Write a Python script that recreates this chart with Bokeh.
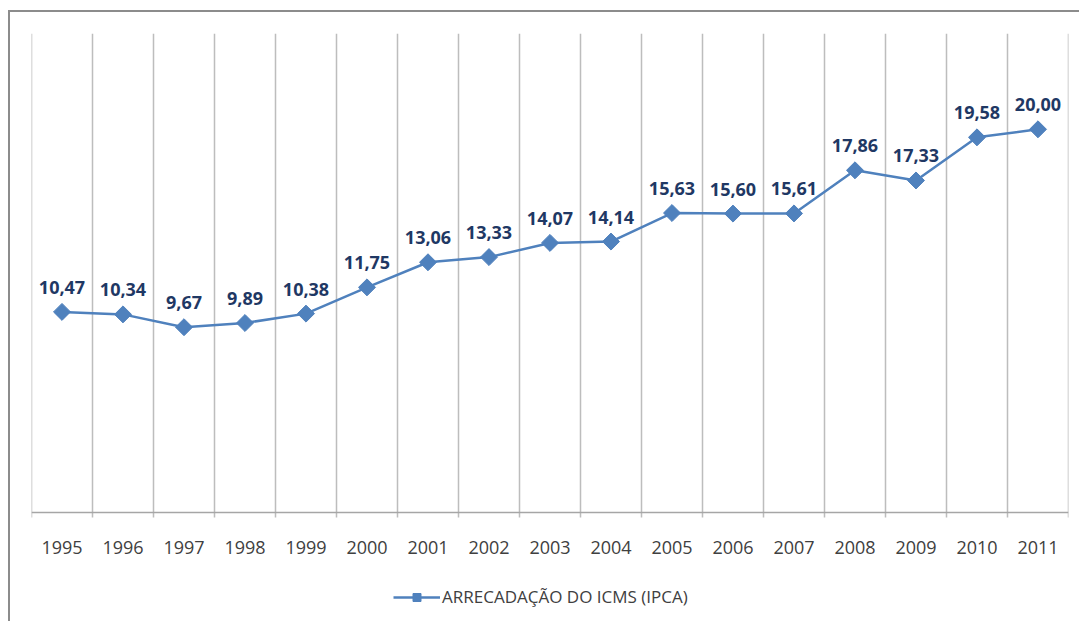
from bokeh.plotting import figure
from bokeh.models import ColumnDataSource, Range1d, Legend, LegendItem, LabelSet, Span
from bokeh.core.properties import value
from bokeh.embed import file_html
from bokeh.resources import INLINE

years = ["1995", "1996", "1997", "1998", "1999", "2000", "2001", "2002", "2003",
         "2004", "2005", "2006", "2007", "2008", "2009", "2010", "2011"]
values = [10.47, 10.34, 9.67, 9.89, 10.38, 11.75, 13.06, 13.33, 14.07,
          14.14, 15.63, 15.60, 15.61, 17.86, 17.33, 19.58, 20.00]
series_name = "ARRECADAÇÃO DO ICMS (IPCA)"
y_top = 25
y_bottom = -5.585   # room below the category axis for the legend

xs = [i + 0.5 for i in range(len(years))]
labels = [f"{v:.2f}".replace(".", ",") for v in values]
src = ColumnDataSource(dict(x=xs, y=values, lab=labels))
cat_src = ColumnDataSource(dict(x=xs, y=[0] * len(xs), lab=years))
boundaries = list(range(len(years) + 1))
grid_src = ColumnDataSource(dict(x=boundaries, y0=[-0.26] * len(boundaries), y1=[y_top] * len(boundaries)))

p = figure(frame_width=1037, frame_height=586, output_backend="svg", toolbar_location=None,
           x_range=Range1d(0, len(years)), y_range=Range1d(y_bottom, y_top),
           x_axis_location=None, y_axis_location=None,
           min_border_left=21, min_border_right=11, min_border_top=21, min_border_bottom=2,
           margin=(10, 0, 0, 8))
p.styles = {"border-left": "2px solid #8c8c8c", "border-top": "2px solid #8c8c8c"}
p.outline_line_color = None
p.background_fill_color = "white"
p.border_fill_color = "white"
p.xgrid.visible = False
p.ygrid.visible = False

# category boundary grid lines (with small tick marks below the axis)
p.segment(x0="x", y0="y0", x1="x", y1="y1", source=grid_src, line_color="#bdbdbd", line_width=1.5)
# category axis line
p.add_layout(Span(location=0, dimension="width", line_color="#a6a6a6", line_width=1.5))

BLUE = "#4F81BD"
r_line = p.line("x", "y", source=src, line_color=BLUE, line_width=2.5)
r_pts = p.scatter("x", "y", source=src, marker="square", angle=0.785398, size=12,
                  fill_color=BLUE, line_color=BLUE)

lbl = LabelSet(x="x", y="y", text="lab", source=src, text_align="center", text_baseline="bottom",
               y_offset=18, text_font=value("Open Sans"), text_font_style="bold", text_font_size="18px",
               text_color="#1F3864")
p.add_layout(lbl)

cat_lbl = LabelSet(x="x", y="y", text="lab", source=cat_src, text_align="center", text_baseline="middle",
                   y_offset=-35, text_font=value("Open Sans"), text_font_size="18px", text_color="#404040")
p.add_layout(cat_lbl)

legend = Legend(items=[LegendItem(label=series_name, renderers=[r_line, r_pts])],
                location=(362, 11), orientation="horizontal",
                label_text_font="Open Sans", label_text_font_size="17px", label_text_color="#404040",
                border_line_color=None, background_fill_alpha=0, glyph_width=47,
                margin=0, padding=2, label_standoff=2)
p.add_layout(legend)

open("out.html", "w").write(file_html(p, INLINE))
